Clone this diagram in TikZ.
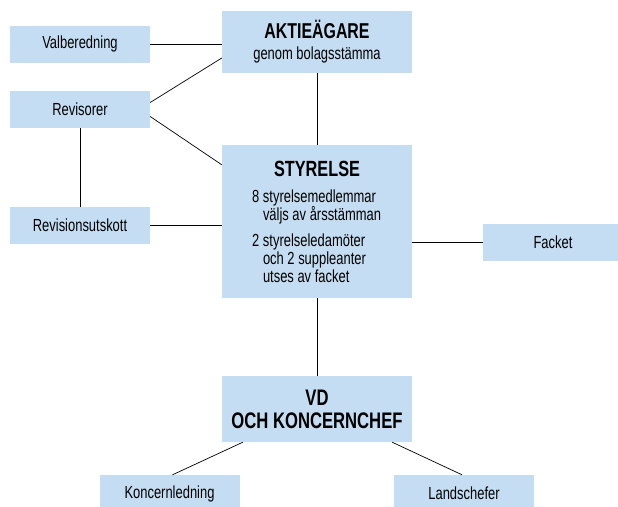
\documentclass[tikz,border=0pt]{standalone}
\usepackage{fontspec}
\setmainfont{Liberation Sans}[FakeStretch=0.74]
\usetikzlibrary{positioning}
\definecolor{boxblue}{RGB}{197,221,242}

\begin{document}
\begin{tikzpicture}[
  x=1pt, y=-1pt,
  font=\fontsize{17.5}{18}\selectfont,
  unitbox/.style={rectangle, minimum height=37pt, minimum width=140pt, fill=boxblue, inner sep=0pt},
  mainbox/.style={rectangle, minimum width=190pt, fill=boxblue, inner sep=0pt, align=center},
  boxtitle/.style={font=\bfseries\fontsize{22.5}{23}\selectfont},
  link/.style={draw=black, line width=0.7pt}
]
\useasboundingbox (0,0) rectangle (618,506);
\clip (0,0) rectangle (618,506);

\node[mainbox, minimum height=62pt] (aktie) at (317,42) {{\bfseries\fontsize{21.5}{24}\selectfont AKTIEÄGARE}\\[3pt] genom bolagsstämma};
\node[mainbox, minimum height=153pt] (styr) at (317,221.5) {};
\node[boxtitle, font=\bfseries\fontsize{22}{23}\selectfont, inner sep=0pt, anchor=base] (styrhead) at (317,176) {STYRELSE};
\node[inner sep=0pt, anchor=base west, align=left] (styrval) at (252,220) {8 styrelsemedlemmar\\\hphantom{8 }väljs av årsstämman};
\node[inner sep=0pt, anchor=base west, align=left] (styrfack) at (252,282) {2 styrelseledamöter\\\hphantom{2 }och 2 suppleanter\\\hphantom{2 }utses av facket};
\node[mainbox, minimum height=66pt, boxtitle] (vd) at (317,409) {VD\\OCH KONCERNCHEF};

\node[unitbox] (valb) at (80,44) {Valberedning};
\node[unitbox] (revis) at (80,109.5) {Revisorer};
\node[unitbox] (revu) at (80,225.5) {Revisionsutskott};
\node[unitbox] (fack) at (553,242) {Facket};
\node[unitbox] (konc) at (169.5,493.5) {Koncernledning};
\node[unitbox] (land) at (464,493.5) {Landschefer};

\draw[link] (valb.east) -- (valb.east -| aktie.west);
\draw[link] ([yshift=7pt]revis.east) -- ([yshift=-16pt]aktie.west);
\draw[link] ([yshift=-7pt]revis.east) -- ([yshift=-20pt]styr.north west);
\draw[link] (revis) -- (revu);
\draw[link] (revu.east) -- (revu.east -| styr.west);
\draw[link] (aktie) -- (styr);
\draw[link] (fack.west -| styr.east) -- (fack.west);
\draw[link] (styr) -- (vd);
\draw[link] ([xshift=21pt]vd.south west) -- ([xshift=3pt]konc.north);
\draw[link] ([xshift=-20pt]vd.south east) -- ([xshift=-2pt]land.north);
\end{tikzpicture}
\end{document}
